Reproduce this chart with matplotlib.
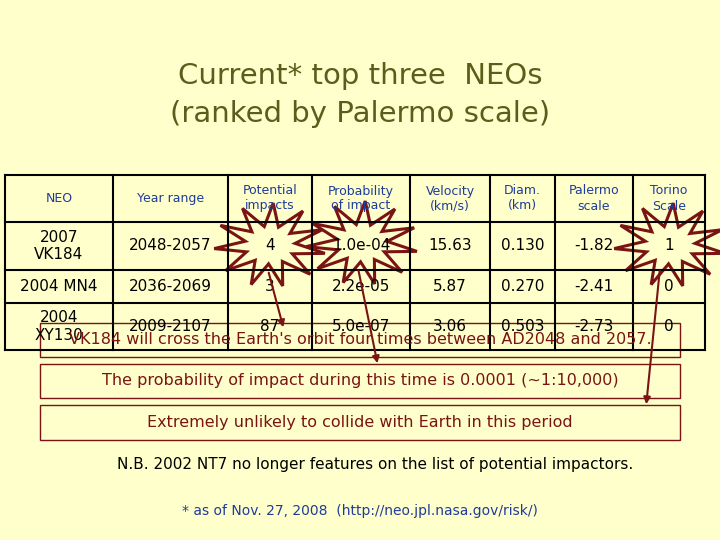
import numpy as np
import matplotlib.pyplot as plt
from matplotlib.patches import Polygon, Rectangle

BG = "#ffffcc"
RED = "#7a1414"
BLUE = "#1f3c9a"
OLIVE = "#5c5c1c"

headers = ["NEO", "Year range", "Potential\nimpacts", "Probability\nof impact",
           "Velocity\n(km/s)", "Diam.\n(km)", "Palermo\nscale", "Torino\nScale"]
neos = ["2007\nVK184", "2004 MN4", "2004\nXY130"]
year_ranges = ["2048-2057", "2036-2069", "2009-2107"]
impacts = ["4", "3", "87"]
probabilities = ["1.0e-04", "2.2e-05", "5.0e-07"]
velocities = ["15.63", "5.87", "3.06"]
diameters = ["0.130", "0.270", "0.503"]
palermo = ["-1.82", "-2.41", "-2.73"]
torino = ["1", "0", "0"]

notes = ["VK184 will cross the Earth's orbit four times between AD2048 and 2057.",
         "The probability of impact during this time is 0.0001 (~1:10,000)",
         "Extremely unlikely to collide with Earth in this period"]

col_edges = [5, 113, 228, 312, 410, 490, 555, 633, 705]
row_edges = [175, 222, 270, 303, 350]

fig = plt.figure(figsize=(7.2, 5.4), dpi=100, facecolor=BG)
ax = fig.add_axes([0, 0, 1, 1])
ax.set_xlim(0, 720)
ax.set_ylim(540, 0)
ax.axis("off")
ax.set_facecolor(BG)

ax.text(360, 95, "Current* top three  NEOs\n(ranked by Palermo scale)", ha="center",
        va="center", fontsize=21, color=OLIVE, linespacing=1.45)

# table grid
for x in col_edges:
    ax.plot([x, x], [row_edges[0], row_edges[-1]], color="black", lw=1.5)
for y in row_edges:
    ax.plot([col_edges[0], col_edges[-1]], [y, y], color="black", lw=1.5)

centers = [(a + b) / 2 for a, b in zip(col_edges[:-1], col_edges[1:])]
for cx, h in zip(centers, headers):
    ax.text(cx, (row_edges[0] + row_edges[1]) / 2, h, ha="center", va="center",
            fontsize=9, color=BLUE, linespacing=1.2)

rows = list(zip(neos, year_ranges, impacts, probabilities, velocities,
                diameters, palermo, torino))
for i, row in enumerate(rows):
    cy = (row_edges[i + 1] + row_edges[i + 2]) / 2
    for cx, val in zip(centers, row):
        ax.text(cx, cy, val, ha="center", va="center", fontsize=11, color="black",
                linespacing=1.2)


def star(cx, cy, rx, ry, n=12, shift=0.0):
    ang = np.linspace(0, 2 * np.pi, 2 * n, endpoint=False) + shift
    r = np.where(np.arange(2 * n) % 2 == 0, 1.0, 0.45)
    return np.column_stack([cx + rx * r * np.cos(ang), cy + ry * r * np.sin(ang)])


for cx, cy in [(270, 245), (362, 243), (670, 245)]:
    ax.add_patch(Polygon(star(cx, cy, 56, 42, 11, 0.2), closed=True,
                         fill=False, ec=RED, lw=2.2))

# note boxes
box_ys = [(323, 357), (364, 398), (405, 440)]
for (y0, y1), txt in zip(box_ys, notes):
    ax.add_patch(Rectangle((40, y0), 640, y1 - y0, fill=False, ec=RED, lw=1))
    ax.text(360, (y0 + y1) / 2, txt, ha="center", va="center", fontsize=11.5,
            color=RED)

arrow = dict(arrowstyle="-|>", color=RED, lw=1.5, mutation_scale=10)
ax.annotate("", xy=(284, 330), xytext=(268, 270), arrowprops=arrow)
ax.annotate("", xy=(378, 366), xytext=(358, 268), arrowprops=arrow)
ax.annotate("", xy=(646, 407), xytext=(660, 268), arrowprops=arrow)

ax.text(375, 465, "N.B. 2002 NT7 no longer features on the list of potential impactors.",
        ha="center", va="center", fontsize=11, color="black")
ax.text(360, 511, "* as of Nov. 27, 2008  (http://neo.jpl.nasa.gov/risk/)",
        ha="center", va="center", fontsize=10, color=BLUE)

fig.savefig("out.png", dpi=100, facecolor=BG)
